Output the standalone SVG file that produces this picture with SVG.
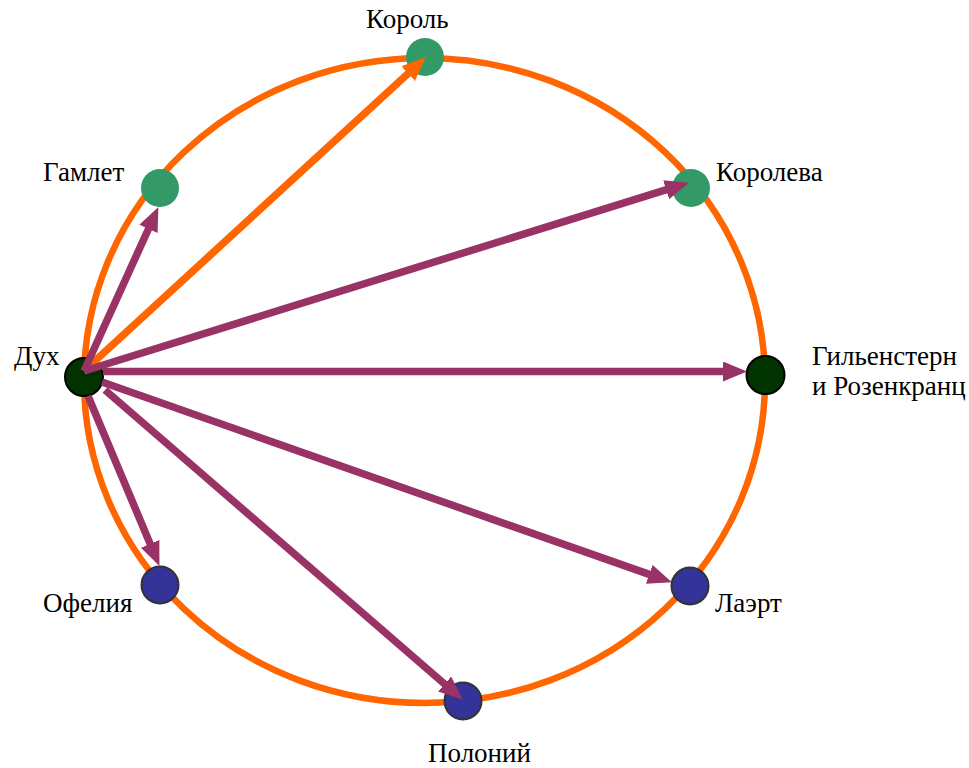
<svg xmlns="http://www.w3.org/2000/svg" width="969" height="768" viewBox="0 0 969 768">
<style>
  text { font-family: 'Liberation Serif', 'Times New Roman', Times, serif; font-size: 27px; fill: #000; }
  .ring { fill: none; stroke: #FF6600; stroke-width: 6.5; }
  .green { fill: #339966; }
  .dark { fill: #003300; stroke: #000; stroke-width: 2; }
  .blue { fill: #333399; stroke: #333; stroke-width: 2; }
  .pl { stroke: #993366; stroke-width: 7.5; fill: none; marker-end: url(#ahP); }
  .ol { stroke: #FF6600; stroke-width: 7.5; fill: none; marker-end: url(#ahO); }
</style>
<defs>
  <marker id="ahP" markerUnits="userSpaceOnUse" markerWidth="26" markerHeight="22" refX="3" refY="10" orient="auto">
    <path d="M0,0 L24,10 L0,20 z" fill="#993366"/>
  </marker>
  <marker id="ahO" markerUnits="userSpaceOnUse" markerWidth="26" markerHeight="22" refX="3" refY="10" orient="auto">
    <path d="M0,0 L24,10 L0,20 z" fill="#FF6600"/>
  </marker>
</defs>
<rect width="969" height="768" fill="#fff"/>
<ellipse class="ring" cx="424.5" cy="380.5" rx="340.5" ry="322.5"/>
<g id="korol"><circle class="green" cx="425" cy="57" r="19"/><text x="366" y="28">Король</text></g>
<g id="gamlet"><circle class="green" cx="160" cy="188" r="19"/><text x="43" y="181">Гамлет</text></g>
<g id="koroleva"><circle class="green" cx="691" cy="188" r="19"/><text x="716" y="181">Королева</text></g>
<g id="dukh"><circle class="dark" cx="84" cy="377" r="19"/><text x="14" y="365">Дух</text></g>
<g id="gilden"><circle class="dark" cx="765.5" cy="375" r="19"/><text x="812" y="365">Гильенстерн</text><text x="812" y="395">и Розенкранц</text></g>
<g id="ofelia"><circle class="blue" cx="160" cy="585" r="18.5"/><text x="43" y="612">Офелия</text></g>
<g id="laert"><circle class="blue" cx="690" cy="586" r="18.5"/><text x="715" y="612">Лаэрт</text></g>
<g id="polonii"><circle class="blue" cx="463" cy="701" r="18.5"/><text x="428" y="762">Полоний</text></g>
<g id="connectors">
  <line class="ol" x1="84" y1="371" x2="410.3" y2="71.5"/>
  <line class="pl" x1="84" y1="371" x2="149.7" y2="226.2"/>
  <line class="pl" x1="84" y1="371" x2="669.0" y2="188.9"/>
  <line class="pl" x1="103" y1="371.5" x2="726" y2="371.5"/>
  <line class="pl" x1="102" y1="382" x2="652.1" y2="575.4"/>
  <line class="pl" x1="105" y1="390" x2="446.9" y2="686.0"/>
  <line class="pl" x1="88" y1="396" x2="151.3" y2="546.6"/>
</g>
</svg>
